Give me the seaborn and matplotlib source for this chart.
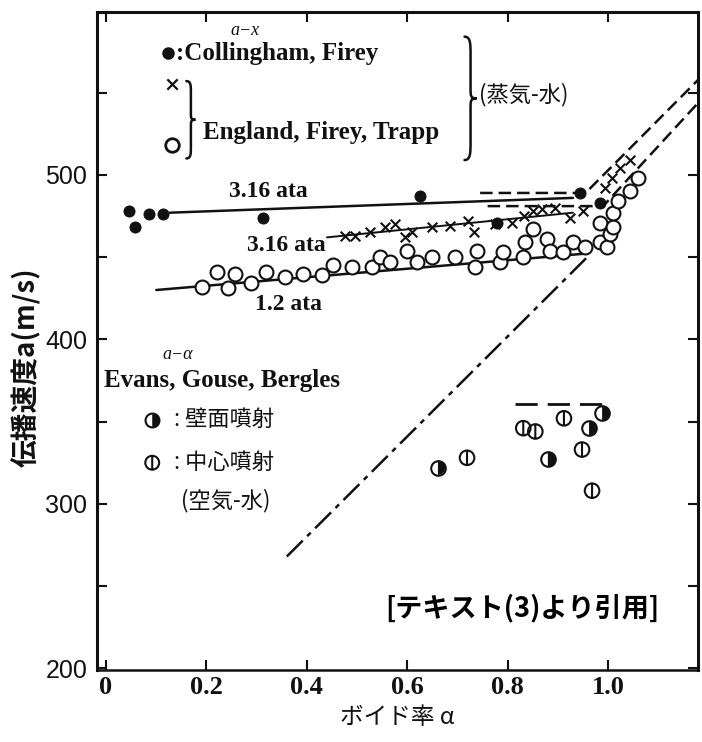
import matplotlib
matplotlib.use("Agg")
import matplotlib.pyplot as plt
import seaborn as sns
from matplotlib.path import Path
from matplotlib.patches import PathPatch
from matplotlib.ticker import MultipleLocator

# ---- steam-water data (a - x) -------------------------------------------
# Collingham, Firey : filled dots, 3.16 ata
coll_alpha = [0.046, 0.057, 0.086, 0.114, 0.313, 0.625, 0.779, 0.944, 0.984]
coll_speed = [478, 468, 476, 476, 474, 487, 471, 489, 483]
coll_line_alpha = [0.127, 0.93]
coll_line_speed = [477, 486]

# England, Firey, Trapp : crosses, 3.16 ata
eng_x_alpha = [0.476, 0.496, 0.526, 0.556, 0.576, 0.596, 0.610, 0.649, 0.685,
               0.721, 0.733, 0.775, 0.809, 0.833, 0.851, 0.869, 0.894, 0.924,
               0.950, 0.994, 1.008, 1.024, 1.044]
eng_x_speed = [463, 463, 465, 468, 470, 462, 465, 468, 469,
               472, 465, 470, 471, 475, 478, 479, 480, 474,
               478, 492, 498, 504, 509]
eng_x_line_alpha = [0.44, 0.93]
eng_x_line_speed = [462, 477]

# England, Firey, Trapp : open circles, 1.2 ata
eng_o_alpha = [0.191, 0.221, 0.243, 0.257, 0.289, 0.319, 0.357, 0.392, 0.430,
               0.452, 0.490, 0.530, 0.546, 0.566, 0.600, 0.620, 0.649, 0.695,
               0.735, 0.739, 0.785, 0.791, 0.831, 0.835, 0.851, 0.878, 0.884,
               0.910, 0.930, 0.954, 0.984, 0.984, 0.998, 1.004, 1.010, 1.010,
               1.020, 1.044, 1.060]
eng_o_speed = [432, 441, 431, 440, 434, 441, 438, 440, 439,
               445, 444, 444, 450, 447, 454, 447, 450, 450,
               444, 454, 447, 453, 450, 459, 467, 461, 454,
               453, 459, 456, 459, 471, 456, 464, 468, 477,
               484, 490, 498]
eng_o_line_alpha = [0.10, 0.95]
eng_o_line_speed = [430, 452]

# theoretical curves (dashed) for 3.16 ata
theo_hi_alpha = [0.745, 0.955, 1.18]
theo_hi_speed = [489, 489, 558]
theo_lo_alpha = [0.76, 0.99, 1.18]
theo_lo_speed = [481, 481, 544]

# homogeneous-flow curve (dash-dot)
homo_alpha = [0.36, 0.965]
homo_speed = [268, 452]

# ---- air-water data (a - alpha), Evans, Gouse, Bergles --------------------
wall_alpha = [0.661, 0.880, 0.962, 0.988]
wall_speed = [322, 327, 346, 355]
center_alpha = [0.719, 0.831, 0.855, 0.912, 0.948, 0.968]
center_speed = [328, 346, 344, 352, 333, 308]
air_level_alpha = [0.815, 0.998]
air_level_speed = [361, 361]

# ---- axis settings --------------------------------------------------------
x_ticks = [0, 0.2, 0.4, 0.6, 0.8, 1.0]
x_ticklabels = ["0", "0.2", "0.4", "0.6", "0.8", "1.0"]
y_ticks = [200, 300, 400, 500]
y_ticklabels = ["200", "300", "400", "500"]

sns.set_style("ticks")
plt.rcParams["font.family"] = ["Noto Sans CJK JP", "DejaVu Sans"]

fig = plt.figure(figsize=(7.02, 7.42), dpi=100)
ax = fig.add_axes([97 / 702, 1 - 670 / 742, (698 - 97) / 702, (670 - 12) / 742])

INK = "#111111"
LW = 1.8
dash = (0, (5, 2.4))

# lines
sns.lineplot(x=coll_line_alpha, y=coll_line_speed, color=INK, lw=LW, ax=ax)
sns.lineplot(x=eng_x_line_alpha, y=eng_x_line_speed, color=INK, lw=1.4, ax=ax)
sns.lineplot(x=eng_o_line_alpha, y=eng_o_line_speed, color=INK, lw=LW, ax=ax)
sns.lineplot(x=theo_hi_alpha, y=theo_hi_speed, color=INK, lw=LW,
             linestyle=dash, sort=False, estimator=None, ax=ax)
sns.lineplot(x=theo_lo_alpha, y=theo_lo_speed, color=INK, lw=LW,
             linestyle=dash, sort=False, estimator=None, ax=ax)
sns.lineplot(x=homo_alpha, y=homo_speed, color=INK, lw=LW,
             linestyle=(0, (9, 2.5, 2, 2.5)), ax=ax)
sns.lineplot(x=air_level_alpha, y=air_level_speed, color=INK, lw=2.0,
             linestyle=(0, (8, 3.6)), ax=ax)

# markers
circle_bar = Path.make_compound_path(
    Path.unit_circle(), Path([(0, -1), (0, 1)], [Path.MOVETO, Path.LINETO]))
right_half = Path.wedge(-90, 90)

sns.scatterplot(x=eng_o_alpha, y=eng_o_speed, marker="o", s=100,
                facecolor="white", edgecolor=INK, linewidth=1.5, color=INK,
                zorder=3, ax=ax)
sns.scatterplot(x=eng_x_alpha, y=eng_x_speed, marker="x", s=48,
                color=INK, linewidth=1.5, zorder=4, ax=ax)
sns.scatterplot(x=coll_alpha, y=coll_speed, marker="o", s=64,
                color=INK, edgecolor=INK, zorder=5, ax=ax)
sns.scatterplot(x=wall_alpha, y=wall_speed, marker="o", s=110,
                facecolor="white", edgecolor=INK, linewidth=1.5, color=INK,
                zorder=3, ax=ax)
sns.scatterplot(x=wall_alpha, y=wall_speed, marker=right_half, s=110,
                color=INK, edgecolor="none", zorder=4, ax=ax)
sns.scatterplot(x=center_alpha, y=center_speed, marker=circle_bar, s=110,
                facecolor="none", edgecolor=INK, linewidth=1.5, color=INK,
                zorder=3, ax=ax)

# ---- annotations ----------------------------------------------------------
serif_b = dict(family="Liberation Serif", weight="bold", color=INK)
serif_i = dict(family="Liberation Serif", style="italic", color=INK)
jp = dict(family=["Noto Sans CJK JP", "DejaVu Sans"], color=INK)


def brace(x0, y0, y1, w, lw=1.8):
    h = y1 - y0
    ym = (y0 + y1) / 2
    xm = x0 + w / 2
    xt = x0 + w
    verts = [(x0, y1),
             (xm, y1), (xm, y1 - 0.06 * h), (xm, y1 - 0.14 * h),
             (xm, ym + 0.08 * h),
             (xm, ym + 0.02 * h), (xm, ym), (xt, ym),
             (xm, ym), (xm, ym - 0.02 * h), (xm, ym - 0.08 * h),
             (xm, y0 + 0.14 * h),
             (xm, y0 + 0.06 * h), (xm, y0), (x0, y0)]
    codes = ([Path.MOVETO] + [Path.CURVE4] * 3 + [Path.LINETO]
             + [Path.CURVE4] * 6 + [Path.LINETO] + [Path.CURVE4] * 3)
    ax.add_patch(PathPatch(Path(verts, codes), fill=False, lw=lw,
                           edgecolor=INK, capstyle="round"))


# steam-water legend block
ax.text(0.277, 588, "a−x", fontsize=13, ha="center", va="center", **serif_i)
ax.scatter([0.124], [574], marker="o", s=64, color=INK)
ax.text(0.140, 574, ":Collingham, Firey", fontsize=18, ha="left",
        va="center", **serif_b)
ax.scatter([0.131], [555], marker="x", s=55, color=INK, linewidth=1.6)
ax.scatter([0.131], [518], marker="o", s=95, facecolor="white",
           edgecolor=INK, linewidth=2.0)
brace(0.160, 510, 557, 0.018)
ax.text(0.193, 526, "England, Firey, Trapp", fontsize=18, ha="left",
        va="center", **serif_b)
brace(0.714, 509, 584, 0.024)
ax.text(0.742, 549, "(蒸気-水)", fontsize=16, ha="left", va="center", **jp)

# curve labels
ax.text(0.323, 490, "3.16 ata", fontsize=17, ha="center", va="center", **serif_b)
ax.text(0.281, 457, "3.16 ata", fontsize=17, ha="left", va="center", **serif_b)
ax.text(0.297, 421, "1.2 ata", fontsize=17, ha="left", va="center", **serif_b)

# air-water legend block
ax.text(0.143, 391, "a−α", fontsize=13, ha="center", va="center", **serif_i)
ax.text(-0.004, 375, "Evans, Gouse, Bergles", fontsize=18, ha="left",
        va="center", **serif_b)
ax.scatter([0.092], [351], marker="o", s=100, facecolor="white",
           edgecolor=INK, linewidth=1.5)
ax.scatter([0.092], [351], marker=right_half, s=100, color=INK,
           edgecolor="none")
ax.text(0.136, 351, ": 壁面噴射", fontsize=16, ha="left", va="center", **jp)
ax.scatter([0.092], [325], marker=circle_bar, s=100, facecolor="none",
           edgecolor=INK, linewidth=1.5)
ax.text(0.136, 325, ": 中心噴射", fontsize=16, ha="left", va="center", **jp)
ax.text(0.149, 302, "(空気-水)", fontsize=16, ha="left", va="center", **jp)

ax.text(0.556, 237, "[テキスト(3)より引用]", fontsize=19.5, ha="left",
        va="center", weight="bold", family=["Noto Sans CJK JP", "DejaVu Sans"],
        color="black")

# ---- axes -----------------------------------------------------------------
ax.set_xlim(-0.018, 1.179)
ax.set_ylim(199, 599)
ax.set_xticks(x_ticks)
ax.set_xticklabels(x_ticklabels, family="Liberation Serif", weight="bold",
                   fontsize=19, color=INK)
ax.set_yticks(y_ticks)
ax.set_yticklabels(y_ticklabels, family="Liberation Sans", fontsize=18,
                   color=INK)
ax.yaxis.set_minor_locator(MultipleLocator(50))
ax.tick_params(which="both", direction="in", length=7, width=1.5,
               top=True, right=True, color=INK)
ax.tick_params(axis="x", pad=4)
ax.tick_params(axis="y", pad=7)
for side in ["left", "right", "top"]:
    ax.spines[side].set_linewidth(2.2)
    ax.spines[side].set_color(INK)
ax.spines["bottom"].set_linewidth(1.8)
ax.spines["bottom"].set_color(INK)

ax.set_xlabel("ボイド率 α", fontsize=17, labelpad=5,
              family=["Noto Sans CJK JP", "DejaVu Sans"], color=INK)
ax.set_ylabel("伝播速度a(m/s)", fontsize=20, weight="bold",
              family=["Noto Sans CJK JP", "DejaVu Sans"], color=INK)
ax.yaxis.set_label_coords(-0.093, 0.46)

fig.savefig("out.png", dpi=100, facecolor="white")
